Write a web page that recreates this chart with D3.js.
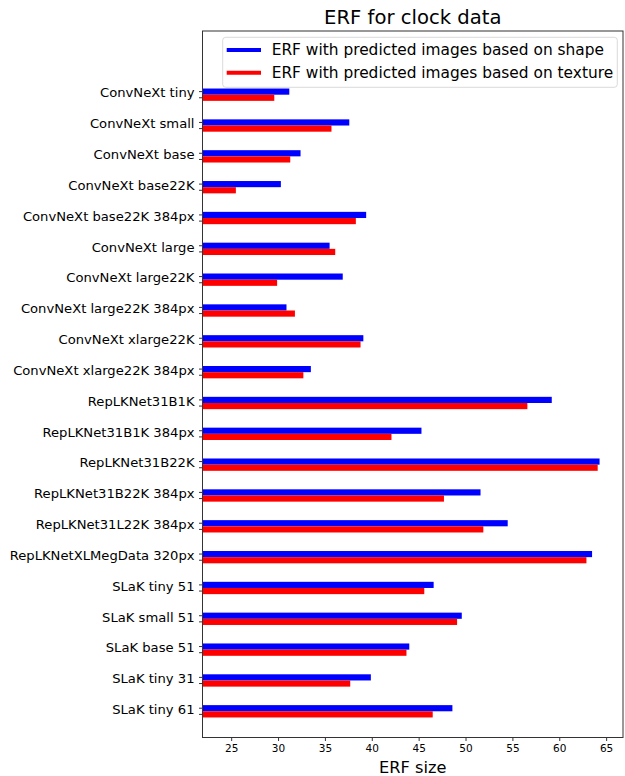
<!DOCTYPE html>
<html><head><meta charset="utf-8">
<script src="https://cdn.jsdelivr.net/npm/d3@7"></script>
<style>body{margin:0;background:#fff}svg{display:block}text{font-family:"DejaVu Sans",sans-serif;fill:#000}</style>
</head><body>
<script>
const categories = ["ConvNeXt tiny","ConvNeXt small","ConvNeXt base","ConvNeXt base22K","ConvNeXt base22K 384px","ConvNeXt large","ConvNeXt large22K","ConvNeXt large22K 384px","ConvNeXt xlarge22K","ConvNeXt xlarge22K 384px","RepLKNet31B1K","RepLKNet31B1K 384px","RepLKNet31B22K","RepLKNet31B22K 384px","RepLKNet31L22K 384px","RepLKNetXLMegData 320px","SLaK tiny 51","SLaK small 51","SLaK base 51","SLaK tiny 31","SLaK tiny 61"];
const shapeValues = [31.2,37.6,32.4,30.3,39.4,35.5,36.9,30.9,39.1,33.5,59.2,45.3,64.3,51.6,54.5,63.5,46.6,49.6,44.0,39.9,48.6];
const textureValues = [29.6,35.7,31.3,25.5,38.3,36.1,29.9,31.8,38.8,32.7,56.6,42.1,64.1,47.7,51.9,62.9,45.6,49.1,43.7,37.7,46.5];
const xTicks = [25,30,35,40,45,50,55,60,65];
const seriesNames = ["ERF with predicted images based on shape","ERF with predicted images based on texture"];
const seriesColors = ["#0000ff","#ff0000"];

const W = 625, H = 776;
const svg = d3.select("body").append("svg").attr("width", W).attr("height", H);
const L = 202.5, R = 623, T = 31, B = 737.5;
const x = d3.scaleLinear().domain([21.94, 66.8]).range([L, R]);
const y = d3.scaleLinear().domain([-2.066, 20.85]).range([T, B]);
const bw = 0.2;

const g = svg.append("g");
categories.forEach((c, i) => {
  g.append("rect").attr("x", L).attr("y", y(i - bw)).attr("width", x(shapeValues[i]) - L).attr("height", y(i) - y(i - bw)).attr("fill", seriesColors[0]);
  g.append("rect").attr("x", L).attr("y", y(i)).attr("width", x(textureValues[i]) - L).attr("height", y(i + bw) - y(i)).attr("fill", seriesColors[1]);
});

const xa = svg.append("g").attr("transform", `translate(0,${B})`)
  .call(d3.axisBottom(x).tickValues(xTicks).tickSize(3.5).tickPadding(3.5).tickFormat(d3.format("d")));
xa.select(".domain").remove();
xa.selectAll("text").attr("font-size", 10.5).attr("font-family", "DejaVu Sans");
xa.selectAll("line").attr("stroke", "#000").attr("stroke-width", 0.8);

categories.forEach((c, i) => {
  [i - bw / 2, i + bw / 2].forEach(v => {
    svg.append("line").attr("x1", L - 3.5).attr("x2", L).attr("y1", y(v)).attr("y2", y(v)).attr("stroke", "#000").attr("stroke-width", 0.8);
  });
  svg.append("text").attr("x", L - 8).attr("y", y(i) + 2.8).attr("text-anchor", "end").attr("font-size", 13.15).text(c);
});

svg.append("rect").attr("x", L).attr("y", T).attr("width", R - L).attr("height", B - T).attr("fill", "none").attr("stroke", "#333").attr("stroke-width", 1);

svg.append("text").attr("x", (L + R) / 2).attr("y", 24).attr("text-anchor", "middle").attr("font-size", 19.6).text("ERF for clock data");
svg.append("text").attr("x", (L + R) / 2).attr("y", 773).attr("text-anchor", "middle").attr("font-size", 16.2).text("ERF size");

const lg = svg.append("g");
lg.append("rect").attr("x", 222.7).attr("y", 37.3).attr("width", 394.6).attr("height", 50).attr("rx", 3).attr("fill", "#fff").attr("fill-opacity", 0.8).attr("stroke", "#d0d0d0").attr("stroke-width", 0.8);
seriesNames.forEach((n, k) => {
  const yy = 50 + k * 22.7;
  lg.append("line").attr("x1", 226.7).attr("x2", 261).attr("y1", yy).attr("y2", yy).attr("stroke", seriesColors[k]).attr("stroke-width", 4);
  lg.append("text").attr("x", 271.7).attr("y", yy + 5.3).attr("font-size", 15.4).text(n);
});
</script>
</body></html>
